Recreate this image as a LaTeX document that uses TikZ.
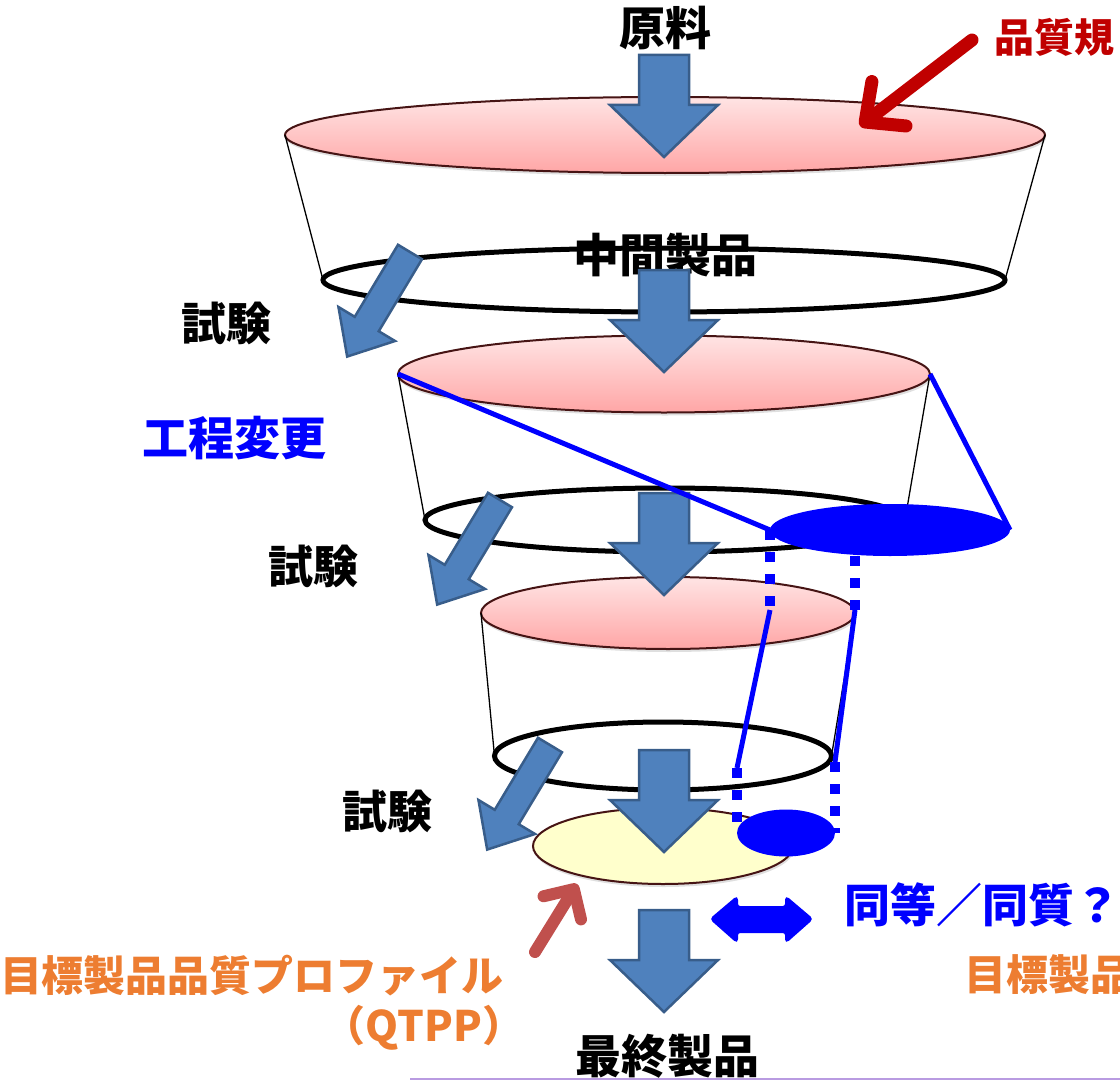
\documentclass[tikz,border=0pt]{standalone}
\usepackage{fontspec}
\setmainfont{Noto Sans CJK JP}
\usetikzlibrary{shapes.geometric, arrows.meta, shadows, calc}
\definecolor{pinktop}{RGB}{255,228,228}
\definecolor{pinkbot}{RGB}{255,166,166}
\definecolor{discedge}{RGB}{70,20,20}
\definecolor{flowblue}{RGB}{79,129,189}
\definecolor{flowedge}{RGB}{56,93,138}
\definecolor{specred}{RGB}{192,0,0}
\definecolor{qtppred}{RGB}{192,80,77}
\definecolor{qtpporange}{RGB}{237,125,49}
\definecolor{changeblue}{RGB}{0,0,255}
\definecolor{creamfill}{RGB}{255,255,204}
\definecolor{slideline}{RGB}{185,155,225}

\begin{document}
\begin{tikzpicture}[
    x=1pt, y=-1pt,
    disc/.style={ellipse, inner sep=0pt, outer sep=0pt, draw=discedge, line width=2pt, top color=pinktop, bottom color=pinkbot, drop shadow={shadow xshift=1pt, shadow yshift=-3pt, opacity=0.25}},
    finaldisc/.style={disc, top color=creamfill, bottom color=creamfill},
    rim/.style={ellipse, inner sep=0pt, outer sep=0pt, draw=black, line width=5pt},
    side/.style={draw=black, line width=1.3pt},
    flow/.style={fill=flowblue, draw=flowedge, line width=2.5pt, line join=miter},
    downflow/.pic={\path[flow] (-25,0) -- (25,0) -- (25,50) -- (54,50) -- (0,102) -- (-54,50) -- (-25,50) -- cycle;},
    sideflow/.pic={\path[flow] (-14,0) -- (14,0) -- (14,84) -- (33,84) -- (0,122) -- (-33,84) -- (-14,84) -- cycle;},
    blk/.style={font={\bfseries\fontsize{46}{50}\selectfont}, inner sep=0pt},
    testlbl/.style={blk, font={\bfseries\fontsize{45}{50}\selectfont}},
    orangelbl/.style={inner sep=0pt, text=qtpporange, font={\bfseries\fontsize{42}{46}\selectfont}},
    blueball/.style={ellipse, inner sep=0pt, outer sep=0pt, fill=changeblue},
    blueline/.style={draw=changeblue, line width=5pt},
    bluedot/.style={draw=changeblue, line width=10pt, dash pattern=on 10pt off 12pt},
    specarrow/.style={draw=specred, line width=13pt, line cap=round, -{Straight Barb[length=30pt, width=56pt, round]}},
    qtpparrow/.style={draw=qtppred, line width=12pt, line cap=round, -{Straight Barb[length=22pt, width=44pt, round]}}
]
    \useasboundingbox (0,0) rectangle (1120,1081);

    % Funnel stages
    \node[disc, minimum width=760pt, minimum height=76pt] (disc1) at (665,135) {};
    \node[rim, minimum width=682pt, minimum height=64pt] (rim1) at (664,280) {};
    \node[disc, minimum width=532pt, minimum height=77pt] (disc2) at (664,374) {};
    \node[rim, minimum width=480pt, minimum height=64pt] (rim2) at (665,520) {};
    \node[disc, minimum width=374pt, minimum height=72pt] (disc3) at (668,613) {};
    \node[rim, minimum width=337pt, minimum height=68pt] (rim3) at (663,756) {};
    \node[finaldisc, minimum width=260pt, minimum height=76pt] (final) at (663,846) {};

    \draw[side] (disc1.west) -- (rim1.west);
    \draw[side] (disc1.east) -- (rim1.east);
    \draw[side] (disc2.west) -- (rim2.west);
    \draw[side] (disc2.east) -- (rim2.east);
    \draw[side] (disc3.west) -- (rim3.west);
    \draw[side] (disc3.east) -- (rim3.east);

    % Labels
    \node[blk] (raw) at (665,28) {原料};
    \node[blk] (inter) at (665,255) {中間製品};
    \node[blk] (product) at (667,1056) {最終製品};
    \node[testlbl] (test1) at (226,323) {試験};
    \node[testlbl] (test2) at (313,566) {試験};
    \node[testlbl] (test3) at (387,811) {試験};
    \node[blk, text=changeblue] (change) at (234,438) {工程変更};
    \node[blk, text=changeblue, anchor=west] (equiv) at (844,905) {同等／同質？};
    \node[inner sep=0pt, text=specred, font={\bfseries\fontsize{40}{44}\selectfont}, anchor=west] (spec) at (994,37) {品質規};
    \node[orangelbl] (qtpp) at (252,976) {目標製品品質プロファイル};
    \node[orangelbl] (qtppabbr) at (424,1028) {（QTPP）};
    \node[orangelbl, anchor=west] (target) at (964,975) {目標製品};

    % Flow arrows
    \pic at (664,55) {downflow};
    \pic at (664,270) {downflow};
    \pic at (664,493) {downflow};
    \pic at (664,750) {downflow};
    \pic at (664,910) {downflow};
    \pic[rotate=-31] at (410,252) {sideflow};
    \pic[rotate=-31] at (500,500) {sideflow};
    \pic[rotate=-31] at (550,745) {sideflow};

    % Process change
    \node[blueball, minimum width=240pt, minimum height=52pt] (blueA) at (890,530) {};
    \node[blueball, minimum width=98pt, minimum height=47pt] (blueB) at (786,833) {};
    \coordinate (p2r) at (855,556);
    \coordinate (p3l) at (770,610);
    \coordinate (p3r) at (855,610);
    \coordinate (p4l) at (737,768);
    \coordinate (p4r) at (835,762);
    \draw[blueline] (disc2.west) -- (blueA.west);
    \draw[blueline] (disc2.east) -- (blueA.east);
    \draw[bluedot] (blueA.west) -- (p3l);
    \draw[bluedot] (p2r) -- (p3r);
    \draw[blueline] (p3l) -- (p4l);
    \draw[blueline] (p3r) -- (p4r);
    \draw[bluedot] (p4l) -- (blueB.west);
    \draw[bluedot] (p4r) -- (blueB.east);
    \path[fill=changeblue, draw=changeblue, line width=2pt, rounded corners=3pt]
        (711,919) -- (737,897) -- (737,907) -- (786,907) -- (786,897) -- (812,919)
        -- (786,942) -- (786,932) -- (737,932) -- (737,942) -- cycle;

    % Spec and QTPP pointers
    \coordinate (spectail) at (972,40);
    \coordinate (spectip) at (860,126);
    \draw[specarrow] (spectail) -- (spectip);
    \coordinate (qtpptail) at (535,952);
    \coordinate (qtpptip) at (577,884);
    \draw[qtpparrow] (qtpptail) -- (qtpptip);

    \draw[slideline, line width=2pt] (410,1079) -- (1120,1079);
\end{tikzpicture}
\end{document}
